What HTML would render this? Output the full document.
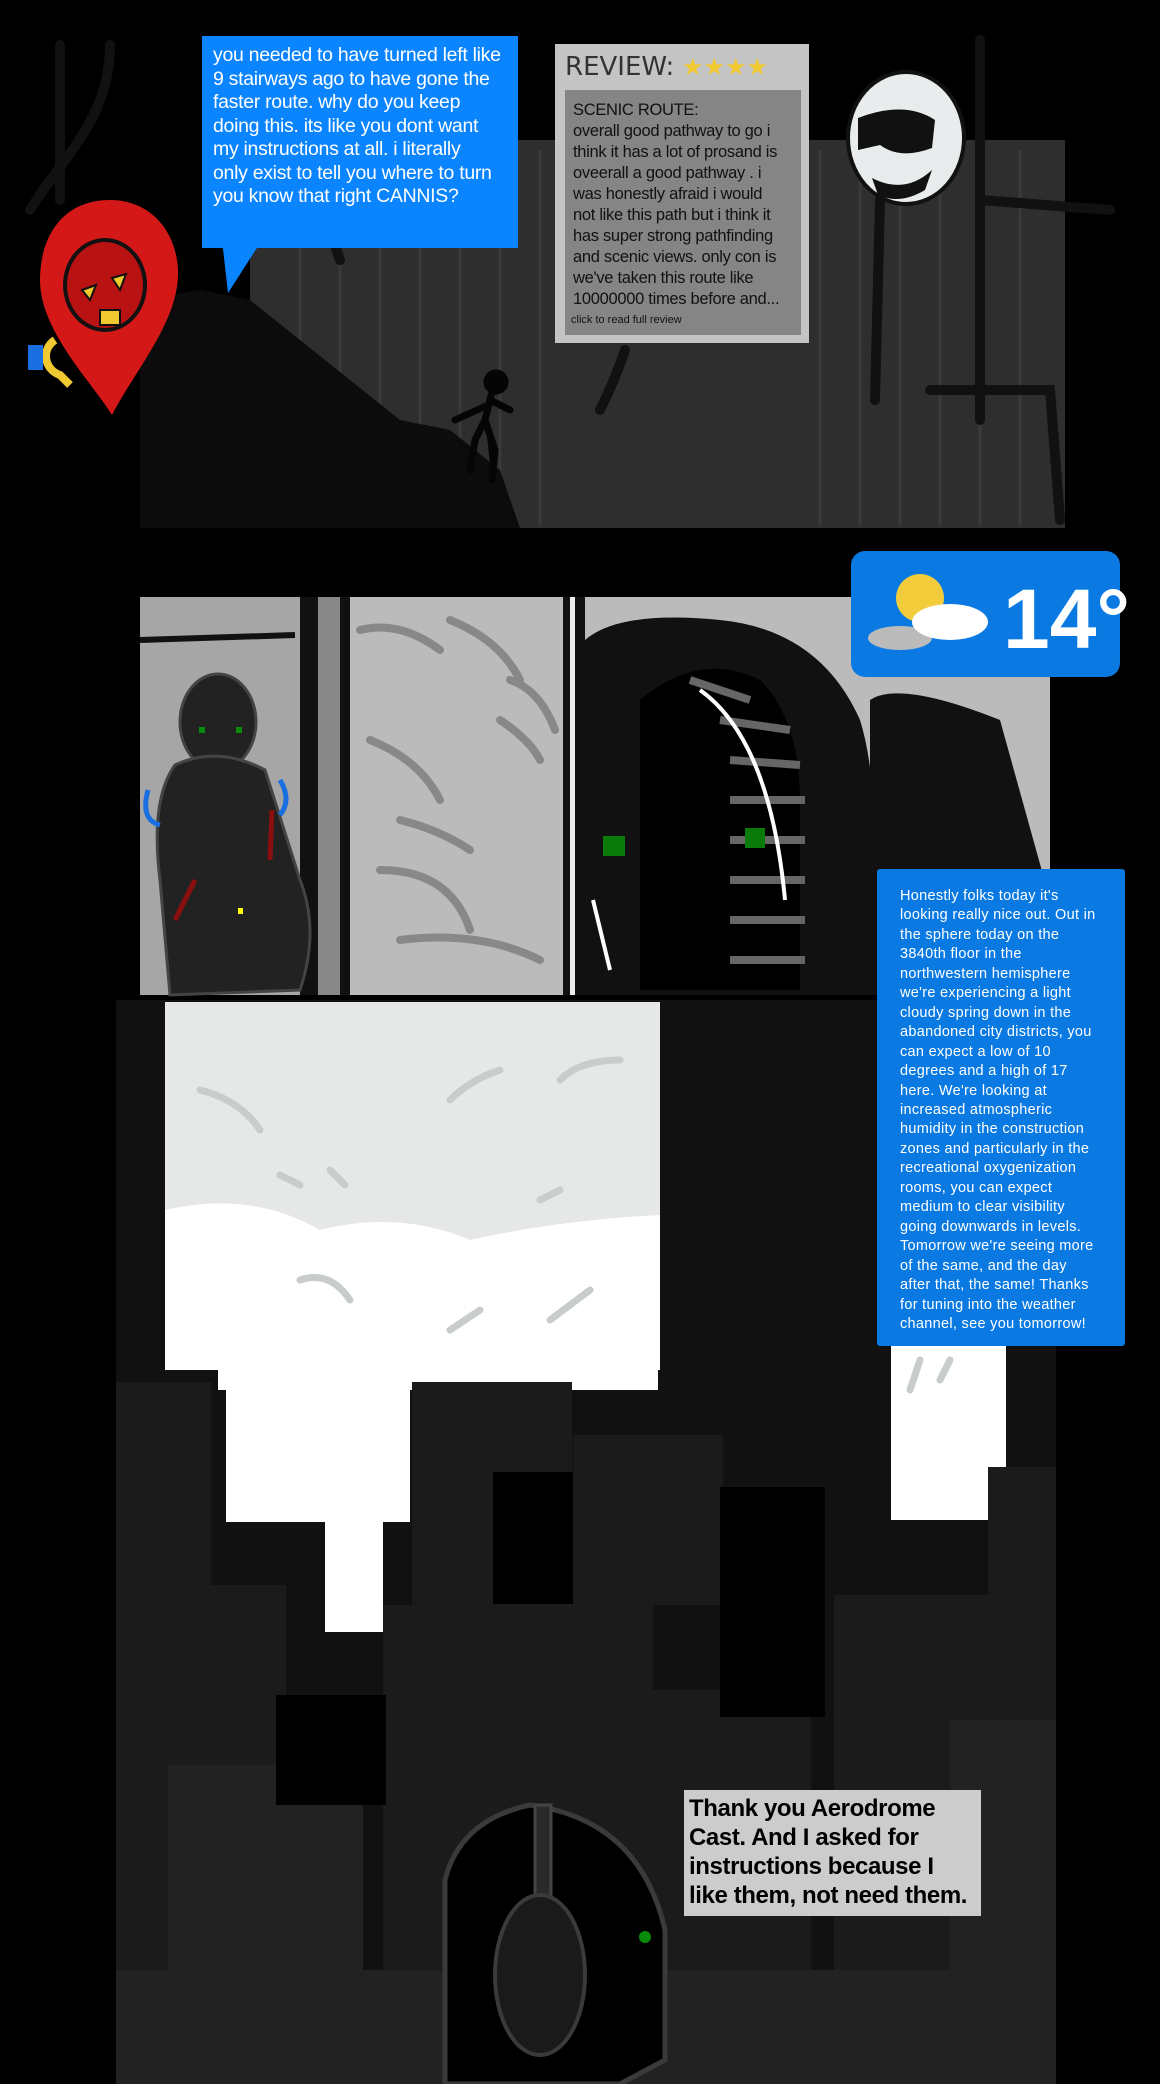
<!DOCTYPE html>
<html><head><meta charset="utf-8"><style>
html,body{margin:0;padding:0;background:#000;}
#c{position:relative;width:1160px;height:2084px;overflow:hidden;background:#000;font-family:"Liberation Sans",sans-serif;}
.abs{position:absolute;white-space:nowrap;}
</style></head><body><div id="c">
<svg class="abs" style="left:0;top:0" width="1160" height="2084" viewBox="0 0 1160 2084">
<rect x="250" y="140" width="815" height="388" fill="#2e2e2e"/>
<g stroke="#3a3a3a" stroke-width="3">
<line x1="300" y1="150" x2="300" y2="525"/><line x1="340" y1="150" x2="340" y2="525"/><line x1="380" y1="150" x2="380" y2="525"/><line x1="420" y1="150" x2="420" y2="525"/><line x1="460" y1="150" x2="460" y2="525"/><line x1="500" y1="150" x2="500" y2="525"/><line x1="540" y1="150" x2="540" y2="525"/><line x1="820" y1="150" x2="820" y2="525"/><line x1="860" y1="150" x2="860" y2="525"/><line x1="900" y1="150" x2="900" y2="525"/><line x1="940" y1="150" x2="940" y2="525"/><line x1="980" y1="150" x2="980" y2="525"/><line x1="1020" y1="150" x2="1020" y2="525"/>
</g>
<polygon points="140,528 140,300 200,290 250,300 300,340 350,380 400,420 450,430 500,470 520,528" fill="#0c0c0c"/>
<g stroke="#111" stroke-width="10" fill="none" stroke-linecap="round">
<path d="M60 45 L60 200"/><path d="M110 45 C 110 120 60 160 30 210"/>
<path d="M340 260 C 330 230 320 210 340 200"/>
<path d="M625 350 C 615 380 605 400 600 410"/>
<path d="M980 40 L980 420"/><path d="M980 200 L1110 210"/><path d="M930 390 L1050 390 L1060 520"/><path d="M880 200 L875 400"/>
</g>
<g stroke="#050505" stroke-width="7" fill="#050505" stroke-linecap="round">
<circle cx="496" cy="382" r="9"/><path d="M492 392 L485 420 L475 440 L470 470 M485 420 L495 450 L492 480 M490 400 L510 410 M488 405 L455 420"/>
</g>
<ellipse cx="906" cy="138" rx="58" ry="66" fill="#e8ecec" stroke="#111" stroke-width="4"/>
<path d="M858 118 Q905 100 935 120 L932 148 Q900 160 880 145 L858 150 Z" fill="#111"/>
<path d="M872 178 Q905 195 932 170 L925 190 Q900 205 878 195 Z" fill="#111"/>
<path d="M110 200 C 60 200 40 240 40 280 C 40 330 90 380 112 415 C 135 370 180 320 178 270 C 176 230 150 200 110 200 Z" fill="#d41818"/>
<ellipse cx="105" cy="285" rx="40" ry="45" fill="#b81212" stroke="#111" stroke-width="4"/>
<polygon points="82,290 96,285 90,300" fill="#f0c830" stroke="#111" stroke-width="2"/>
<polygon points="112,278 126,274 120,290" fill="#f0c830" stroke="#111" stroke-width="2"/>
<rect x="100" y="310" width="20" height="15" fill="#f0c830" stroke="#111" stroke-width="2"/>
<path d="M55 340 C 40 350 45 370 60 375 L70 385" stroke="#f0c830" stroke-width="8" fill="none"/>
<rect x="28" y="345" width="15" height="25" fill="#1a6fe0"/>
<polygon points="222,240 262,240 228,293" fill="#0a84ff"/>
<rect x="140" y="597" width="910" height="398" fill="#bbbbbb"/>
<rect x="140" y="597" width="175" height="398" fill="#a6a6a6"/>
<line x1="140" y1="640" x2="295" y2="635" stroke="#111" stroke-width="6"/>
<rect x="300" y="597" width="18" height="398" fill="#111"/>
<rect x="318" y="597" width="26" height="398" fill="#888"/>
<rect x="340" y="597" width="10" height="398" fill="#111"/>
<rect x="563" y="597" width="8" height="398" fill="#111"/>
<rect x="570" y="597" width="5" height="398" fill="#eee"/>
<rect x="575" y="597" width="10" height="398" fill="#111"/>
<g stroke="#888" stroke-width="8" fill="none" stroke-linecap="round">
<path d="M360 630 Q400 620 440 650"/><path d="M450 620 Q500 640 520 680"/><path d="M510 680 Q540 690 555 730"/><path d="M370 740 Q420 760 440 800"/><path d="M400 820 Q440 830 470 850"/><path d="M380 870 Q450 870 470 930"/><path d="M400 940 Q480 930 540 960"/><path d="M500 720 Q530 740 540 760"/>
</g>
<path d="M585 995 L585 640 Q620 610 720 620 Q820 630 860 720 Q885 800 870 995 Z" fill="#111"/>
<path d="M640 990 L640 700 Q700 650 760 680 Q800 720 800 800 L800 990 Z" fill="#000"/>
<g stroke="#666" stroke-width="8">
<line x1="690" y1="680" x2="750" y2="700"/><line x1="720" y1="720" x2="790" y2="730"/><line x1="730" y1="760" x2="800" y2="765"/><line x1="730" y1="800" x2="805" y2="800"/><line x1="730" y1="840" x2="805" y2="840"/><line x1="730" y1="880" x2="805" y2="880"/><line x1="730" y1="920" x2="805" y2="920"/><line x1="730" y1="960" x2="805" y2="960"/>
</g>
<path d="M700 690 Q770 740 785 900" stroke="#fff" stroke-width="4" fill="none"/>
<path d="M593 900 L610 970" stroke="#fff" stroke-width="4"/>
<rect x="603" y="836" width="22" height="20" fill="#0a7a0a"/><rect x="745" y="828" width="20" height="20" fill="#0a7a0a"/>
<path d="M870 995 L870 700 Q900 680 1000 720 L1050 900 L1050 995 Z" fill="#111"/>
<g fill="#222" stroke="#444" stroke-width="3">
<ellipse cx="218" cy="722" rx="38" ry="48"/>
<path d="M175 765 Q218 745 265 770 L300 880 Q320 930 300 990 L170 995 L160 880 Q150 800 175 765 Z"/>
</g>
<rect x="199" y="727" width="6" height="6" fill="#0a8a0a"/><rect x="236" y="727" width="6" height="6" fill="#0a8a0a"/>
<path d="M148 790 Q140 820 160 825" stroke="#1a6fe0" stroke-width="5" fill="none"/>
<path d="M280 780 Q292 800 280 815" stroke="#1a6fe0" stroke-width="5" fill="none"/>
<path d="M272 810 L270 860 M195 880 L175 920" stroke="#8a0f0f" stroke-width="5"/>
<rect x="238" y="908" width="5" height="6" fill="#ff0"/>
<rect x="116" y="1000" width="940" height="1084" fill="#111"/>
<rect x="165" y="1002" width="495" height="368" fill="#e6e8e8"/>
<path d="M165 1210 Q250 1190 320 1230 Q400 1210 470 1240 Q560 1220 660 1215 L660 1370 L165 1370 Z" fill="#fff"/>
<rect x="218" y="1370" width="440" height="20" fill="#fff"/>
<rect x="226" y="1390" width="184" height="132" fill="#fff"/>
<rect x="325" y="1520" width="58" height="112" fill="#fff"/>
<rect x="891" y="1345" width="115" height="175" fill="#fff"/>
<g stroke="#c8cccc" stroke-width="7" fill="none" stroke-linecap="round">
<path d="M200 1090 Q240 1100 260 1130"/><path d="M280 1175 L300 1185"/><path d="M330 1170 L345 1185"/><path d="M450 1100 Q470 1080 500 1070"/><path d="M560 1080 Q580 1060 620 1060"/><path d="M540 1200 L560 1190"/><path d="M300 1280 Q330 1270 350 1300"/><path d="M450 1330 L480 1310"/><path d="M550 1320 L590 1290"/><path d="M910 1390 L920 1360"/><path d="M940 1380 L950 1360"/>
</g>
<g fill="#1b1b1b">
<rect x="116" y="1382" width="95" height="610"/>
<rect x="211" y="1585" width="75" height="400"/>
<rect x="412" y="1382" width="160" height="240"/>
<rect x="383" y="1605" width="270" height="480"/>
<rect x="573" y="1435" width="150" height="170"/>
<rect x="626" y="1690" width="185" height="394"/>
<rect x="834" y="1595" width="160" height="489"/>
<rect x="988" y="1467" width="68" height="617"/>
</g>
<g fill="#222">
<rect x="168" y="1765" width="195" height="320"/>
<rect x="116" y="1970" width="940" height="114"/>
<rect x="950" y="1720" width="106" height="364"/>
</g>
<rect x="493" y="1472" width="80" height="132" fill="#000"/>
<rect x="720" y="1487" width="105" height="230" fill="#000"/>
<rect x="276" y="1695" width="110" height="110" fill="#000"/>
<path d="M445 2084 L445 1880 Q460 1820 530 1805 Q640 1820 665 1930 L665 2060 L620 2084 Z" fill="#000" stroke="#3a3a3a" stroke-width="5"/>
<rect x="535" y="1805" width="16" height="110" fill="#2a2a2a" stroke="#444" stroke-width="3"/>
<ellipse cx="540" cy="1975" rx="45" ry="80" fill="#1a1a1a" stroke="#3a3a3a" stroke-width="4"/>
<circle cx="645" cy="1937" r="6" fill="#0a8a0a"/>
<rect x="851" y="551" width="269" height="126" rx="14" fill="#0a7ae2"/>
<circle cx="920" cy="598" r="24" fill="#f3cc3c"/>
<ellipse cx="900" cy="638" rx="32" ry="12" fill="#bbb"/>
<ellipse cx="950" cy="622" rx="38" ry="18" fill="#fff"/>
<text x="1003" y="648" font-family="Liberation Sans" font-size="84" font-weight="bold" fill="#fff">14°</text>
</svg>
<div class="abs" style="left:202px;top:36px;width:316px;height:212px;background:#0a84ff;"></div>
<div class="abs" style="left:213px;top:44px;color:#fff;font-size:19.5px;line-height:23.5px;letter-spacing:-0.3px;">you needed to have turned left like<br>9 stairways ago to have gone the<br>faster route. why do you keep<br>doing this. its like you dont want<br>my instructions at all. i literally<br>only exist to tell you where to turn<br>you know that right CANNIS?</div>
<div class="abs" style="left:555px;top:44px;width:254px;height:299px;background:#c4c4c4;"></div>
<div class="abs" style="left:565px;top:90px;width:236px;height:245px;background:#858585;"></div>
<div class="abs" style="left:565px;top:52px;font-size:26px;color:#333;font-family:'DejaVu Sans',sans-serif;">REVIEW:<span style="color:#f0c830;font-size:24px"> ★★★★</span></div>
<div class="abs" style="left:573px;top:100px;color:#111;font-size:16.5px;line-height:21px;letter-spacing:-0.3px;">SCENIC ROUTE:<br>overall good pathway to go i<br>think it has a lot of prosand is<br>oveerall a good pathway . i<br>was honestly afraid i would<br>not like this path but i think it<br>has super strong pathfinding<br>and scenic views. only con is<br>we've taken this route like<br>10000000 times before and...</div>
<div class="abs" style="left:571px;top:314px;font-size:11px;color:#111;">click to read full review</div>
<div class="abs" style="left:877px;top:869px;width:248px;height:477px;background:#0a7ae2;border-radius:3px;"></div>
<div class="abs" style="left:900px;top:887px;color:#fff;font-size:14.5px;line-height:19.45px;letter-spacing:0.3px;">Honestly folks today it's<br>looking really nice out. Out in<br>the sphere today on the<br>3840th floor in the<br>northwestern hemisphere<br>we're experiencing a light<br>cloudy spring down in the<br>abandoned city districts, you<br>can expect a low of 10<br>degrees and a high of 17<br>here. We're looking at<br>increased atmospheric<br>humidity in the construction<br>zones and particularly in the<br>recreational oxygenization<br>rooms, you can expect<br>medium to clear visibility<br>going downwards in levels.<br>Tomorrow we're seeing more<br>of the same, and the day<br>after that, the same! Thanks<br>for tuning into the weather<br>channel, see you tomorrow!</div>
<div class="abs" style="left:684px;top:1790px;width:297px;height:126px;background:#cccccc;"></div>
<div class="abs" style="left:689px;top:1794px;color:#000;font-weight:bold;font-size:24px;line-height:29px;letter-spacing:-0.4px;">Thank you Aerodrome<br>Cast. And I asked for<br>instructions because I<br>like them, not need them.</div>
</div></body></html>
